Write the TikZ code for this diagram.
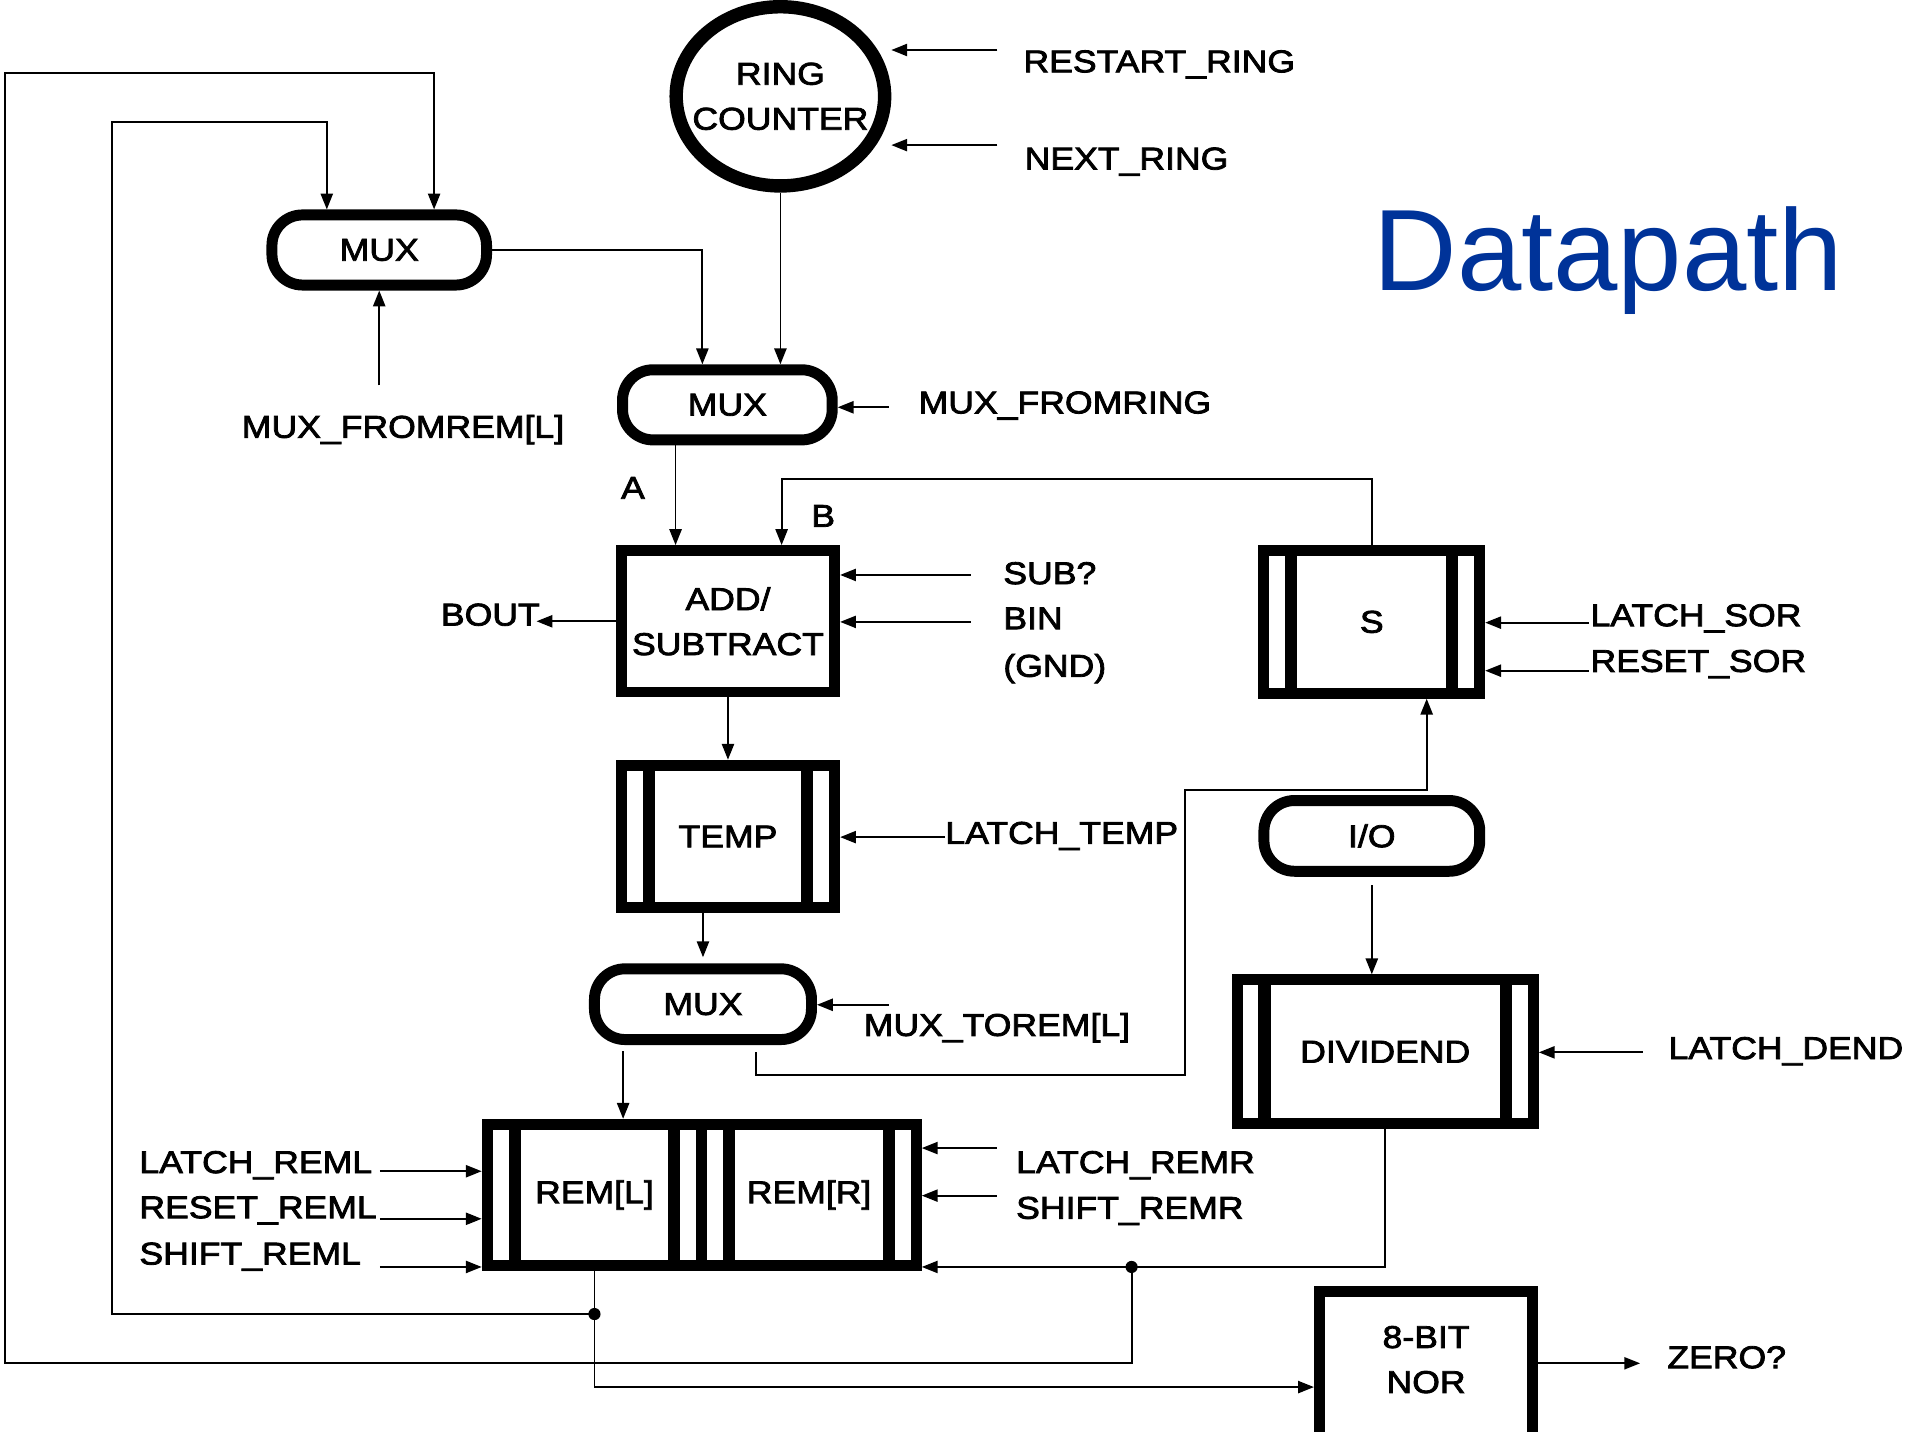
\documentclass[tikz,border=0pt]{standalone}
\usepackage{fontspec}
\setmainfont[FakeStretch=1.13,FakeBold=2.5]{Liberation Sans}
\newfontfamily\titlefont{Liberation Sans}
\usetikzlibrary{arrows.meta,shapes.geometric}
\definecolor{dpblue}{RGB}{0,51,153}

\begin{document}
\begin{tikzpicture}[x=0.02cm,y=-0.02cm,font=\fontsize{14.7}{21}\selectfont]
\tikzstyle{wire} = [line width=0.03cm]
\tikzstyle{sig} = [wire,-{Triangle[length=0.26cm,width=0.2cm]}]
\tikzstyle{box} = [draw,line width=0.18cm,minimum width=3.5cm,minimum height=2.32cm,inner sep=0pt,align=center]
\tikzstyle{reg} = [box,path picture={
  \draw[line width=0.2cm] ([xshift=0.45cm]path picture bounding box.north west) -- ([xshift=0.45cm]path picture bounding box.south west);
  \draw[line width=0.2cm] ([xshift=-0.45cm]path picture bounding box.north east) -- ([xshift=-0.45cm]path picture bounding box.south east);}]
\tikzstyle{mux} = [draw,line width=0.18cm,rounded corners=0.5cm,minimum width=3.52cm,minimum height=1.15cm,inner sep=0pt]
\tikzstyle{lbl} = [inner sep=0pt,anchor=base west]

\useasboundingbox (0,0) rectangle (1568,1174);
\clip (0,0) rectangle (1568,1174);

%%%%%% Title
\node[anchor=base west,inner sep=0pt,font=\titlefont\fontsize{54}{60}\selectfont,text=dpblue] (title) at (1126,238) {Datapath};

%%%%%% Blocks
\node[draw,ellipse,line width=0.22cm,minimum width=3.42cm,minimum height=2.94cm,inner xsep=-0.3cm,inner ysep=0pt,align=center] (ring) at (640,79) {RING\\COUNTER};
\node[mux] (mux1) at (311,205) {MUX};
\node[mux,minimum width=3.44cm] (mux2) at (596.5,332) {MUX};
\node[box] (add) at (597,509.5) {ADD/\\SUBTRACT};
\node[reg,minimum height=2.34cm] (temp) at (597,686) {TEMP};
\node[mux,minimum width=3.56cm,minimum height=1.16cm] (mux3) at (576.5,823.5) {MUX};
\node[reg,minimum width=3.52cm] (reml) at (487.5,980) {REM[L]};
\node[reg,minimum width=3.52cm] (remr) at (663.5,980) {REM[R]};
\node[reg,minimum width=3.54cm,minimum height=2.34cm] (sreg) at (1125,510) {S};
\node[mux,minimum width=3.54cm,minimum height=1.16cm] (io) at (1125,685.5) {I/O};
\node[reg,minimum width=4.86cm,minimum height=2.36cm] (dvd) at (1136,862.5) {DIVIDEND};
\node[box,minimum height=3.14cm] (nor) at (1169.5,1137.5) {};
\node[align=center] (nortxt) at (1169.5,1115) {8-BIT\\NOR};

%%%%%% Labels
\node[lbl] (rsl) at (839,59.3) {RESTART\_RING};
\node[lbl] (nxl) at (840,139) {NEXT\_RING};
\node[lbl] (mfrl) at (753,339) {MUX\_FROMRING};
\node[lbl] (mfreml) at (198,359) {MUX\_FROMREM[L]};
\node[lbl] (la) at (509,409) {A};
\node[lbl] (lb) at (665,432) {B};
\node[lbl] (subl) at (822.5,479) {SUB?};
\node[lbl] (binl) at (822.5,516) {BIN};
\node[lbl] (gndl) at (822.5,555) {(GND)};
\node[lbl,anchor=base east] (bout) at (443,513) {BOUT};
\node[lbl] (ltl) at (775,692) {LATCH\_TEMP};
\node[lbl] (mtl) at (708,849.5) {MUX\_TOREM[L]};
\node[lbl] (lsl) at (1304,513.5) {LATCH\_SOR};
\node[lbl] (rsorl) at (1304,551) {RESET\_SOR};
\node[lbl] (ldl) at (1368,868.5) {LATCH\_DEND};
\node[lbl] (lrrl) at (833,962) {LATCH\_REMR};
\node[lbl] (srrl) at (833,999.5) {SHIFT\_REMR};
\node[lbl] (lrll) at (114,962) {LATCH\_REML};
\node[lbl] (rrll) at (114,999) {RESET\_REML};
\node[lbl] (srll) at (114,1037) {SHIFT\_REML};
\node[lbl] (zl) at (1367,1122) {ZERO?};

%%%%%% Control inputs
\coordinate (rsin) at (818,41);
\coordinate (nxin) at (818,119);
\coordinate (mfrin) at (729,334);
\coordinate (mfremin) at (311,316);
\coordinate (subin) at (796,471.5);
\coordinate (binin) at (796,510);
\coordinate (ltin) at (775,686.5);
\coordinate (mtin) at (729,824);
\coordinate (lsin) at (1303,510.6);
\coordinate (rsorin) at (1303,550);
\coordinate (ldin) at (1347,863);
\coordinate (lrrin) at (817.5,941.5);
\coordinate (srrin) at (817.5,980.5);
\coordinate (lrlin) at (311.5,960.5);
\coordinate (rrlin) at (311.5,999.5);
\coordinate (srlin) at (311.5,1039);
\coordinate (zout) at (1345,1118);

\draw[sig] (rsin) -- (rsin -| ring.east);
\draw[sig] (nxin) -- (nxin -| ring.east);
\draw[sig] (mfrin) -- (mfrin -| mux2.east);
\draw[sig] (mfremin) -- (mfremin |- mux1.south);
\draw[sig] (subin) -- (subin -| add.east);
\draw[sig] (binin) -- (binin -| add.east);
\draw[sig] (ltin) -- (ltin -| temp.east);
\draw[sig] (mtin) -- (mtin -| mux3.east);
\draw[sig] (lsin) -- (lsin -| sreg.east);
\draw[sig] (rsorin) -- (rsorin -| sreg.east);
\draw[sig] (ldin) -- (ldin -| dvd.east);
\draw[sig] (lrrin) -- (lrrin -| remr.east);
\draw[sig] (srrin) -- (srrin -| remr.east);
\draw[sig] (lrlin) -- (lrlin -| reml.west);
\draw[sig] (rrlin) -- (rrlin -| reml.west);
\draw[sig] (srlin) -- (srlin -| reml.west);
\draw[sig,shorten >=-0.06cm] (add.west) -- (add.west -| bout.east);
\draw[sig] (zout -| nor.east) -- (zout);

%%%%%% Data paths
\coordinate (bturn) at (641,393);
\coordinate (sfb1) at (972,881.5);
\coordinate (sfb2) at (1170,648);
\coordinate (jl) at (487.5,1077.6);
\coordinate (jr) at (928,1039);
\coordinate (fbi) at (92,100);
\coordinate (fbo) at (4,60);
\coordinate (fbb) at (928,1117.5);

\draw[sig] (ring.south) -- (ring.south |- mux2.north);
\draw[sig] (mux1.east) -| ([xshift=-0.41cm]mux2.north);
\draw[sig] ([xshift=-0.85cm]mux2.south) -- ([xshift=-0.85cm]mux2.south |- add.north);
\draw[sig] (sreg.north) |- (bturn) -- (bturn |- add.north);
\draw[sig] (add.south) -- (temp.north);
\draw[sig,shorten >=0.1cm] (temp.south -| mux3.north) -- (mux3.north);
\draw[sig,shorten <=0.1cm] ([xshift=-1.31cm]mux3.south) -- ([xshift=-1.31cm]mux3.south |- reml.north);
\draw[sig,shorten <=0.12cm] ([xshift=0.87cm]mux3.south) |- (sfb1) |- (sfb2) -- (sfb2 |- sreg.south);
\draw[sig,shorten <=0.14cm] (io.south) -- (io.south |- dvd.north);
\draw[sig] (dvd.south) |- (jr) -- (jr -| remr.east);
\draw[sig] (reml.south) |- (nor.west);

%%%%%% Feedback to top MUX
\draw[sig] (jl) -| (fbi) -| ([xshift=-0.86cm]mux1.north);
\draw[sig] (jr) -- (fbb) -| (fbo) -| ([xshift=0.9cm]mux1.north);
\fill (jl) circle (0.1cm);
\fill (jr) circle (0.1cm);
\end{tikzpicture}
\end{document}
